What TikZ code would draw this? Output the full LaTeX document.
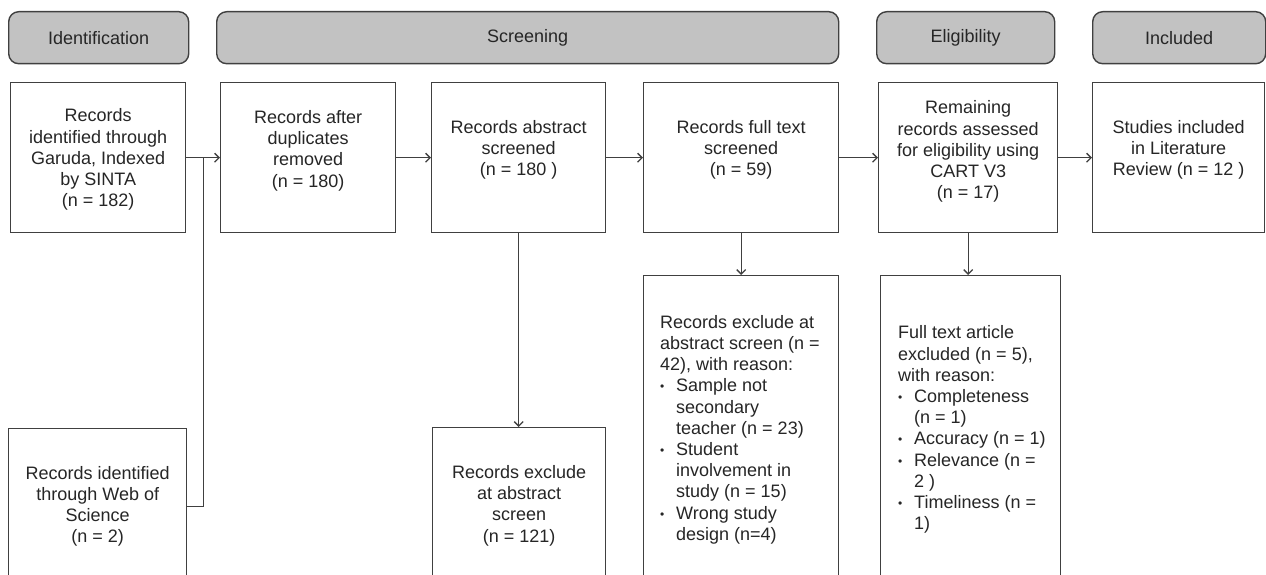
\documentclass[tikz,border=0pt]{standalone}
\usepackage{fontspec}
\setmainfont{Liberation Sans}
\usetikzlibrary{arrows.meta,calc}
\definecolor{hdr}{HTML}{C2C2C2}
\definecolor{ln}{HTML}{404040}
\definecolor{tx}{HTML}{262626}
\newcommand{\bul}{\makebox[16pt][l]{{\fontsize{12}{12}\selectfont\raisebox{1pt}{•}}}}
\newcommand{\ind}{\hspace*{16pt}}
\tikzset{
  hdrbox/.style={draw=ln, fill=hdr, line width=1.4pt, rounded corners=10pt, inner sep=0pt, minimum height=52pt, anchor=north west},
  recbox/.style={draw=ln, line width=1.4pt, fill=white, inner sep=0pt, anchor=north west},
  txt/.style={font=\fontsize{18}{21.2}\selectfont, align=center, text=tx, inner sep=0pt},
  ltxt/.style={font=\fontsize{18}{21.2}\selectfont, align=left, text=tx, inner sep=0pt, anchor=west},
  arr/.style={draw=ln, line width=1.3pt, -{Straight Barb[length=4.5pt,width=9pt]}},
  conn/.style={draw=ln, line width=1.3pt},
}
\begin{document}
\begin{tikzpicture}[x=1pt,y=-1pt]
\useasboundingbox (0,0) rectangle (1266,575);
\clip (0,0) rectangle (1266,575);
% headers
\node[hdrbox, minimum width=180pt] (h1) at (8,11) {};
\node[txt] at (h1.center) {Identification};
\node[hdrbox, minimum width=622pt] (h2) at (216,11) {};
\node[txt] at (h2.center) {Screening};
\node[hdrbox, minimum width=178pt] (h3) at (876,11) {};
\node[txt] at (h3.center) {Eligibility};
\node[hdrbox, minimum width=173pt] (h4) at (1092,11) {};
\node[txt] at (h4.center) {Included};
% top row boxes
\node[recbox, minimum width=175pt, minimum height=150pt] (b1) at (10,82) {};
\node[txt] at ([yshift=-2pt]b1.center) {Records\\identified through\\Garuda, Indexed\\by SINTA\\(n = 182)};
\node[recbox, minimum width=175pt, minimum height=150pt] (b2) at (220,82) {};
\node[txt] at ([yshift=7pt]b2.center) {Records after\\duplicates\\removed\\(n = 180)};
\node[recbox, minimum width=174pt, minimum height=150pt] (b3) at (431,82) {};
\node[txt] at ([yshift=8pt]b3.center) {Records abstract\\screened\\(n = 180 )};
\node[recbox, minimum width=195pt, minimum height=150pt] (b4) at (643,82) {};
\node[txt] at ([yshift=8pt]b4.center) {Records full text\\screened\\(n = 59)};
\node[recbox, minimum width=179pt, minimum height=150pt] (b5) at (878,82) {};
\node[txt] at ([yshift=6pt]b5.center) {Remaining\\records assessed\\for eligibility using\\CART V3\\(n = 17)};
\node[recbox, minimum width=172pt, minimum height=150pt] (b6) at (1092,82) {};
\node[txt] at ([yshift=8pt]b6.center) {Studies included\\in Literature\\Review (n = 12 )};
% lower boxes
\node[recbox, minimum width=178pt, minimum height=155pt] (b7) at (8,428) {};
\node[txt] at (b7.center) {Records identified\\through Web of\\Science\\(n = 2)};
\node[recbox, minimum width=173pt, minimum height=156pt] (b8) at (432,427) {};
\node[txt] at (b8.center) {Records exclude\\at abstract\\screen\\(n = 121)};
\node[recbox, minimum width=195pt, minimum height=308pt] (b9) at (643,275) {};
\node[ltxt] at ([xshift=17pt]b9.west) {Records exclude at\\abstract screen (n =\\42), with reason:\\
\bul Sample not\\\ind secondary\\\ind teacher (n = 23)\\
\bul Student\\\ind involvement in\\\ind study (n = 15)\\
\bul Wrong study\\\ind design (n=4)};
\node[recbox, minimum width=180pt, minimum height=308pt] (b10) at (880,275) {};
\node[ltxt] at ([xshift=18pt]b10.west) {Full text article\\excluded (n = 5),\\with reason:\\
\bul Completeness\\\ind (n = 1)\\
\bul Accuracy (n = 1)\\
\bul Relevance (n =\\\ind 2 )\\
\bul Timeliness (n =\\\ind 1)};
% connectors
\coordinate (jc) at ($(b1.east)!0.5!(b2.west)$);
\draw[arr] (b1.east) -- (b2.west);
\draw[conn] (b7.east) -| (jc);
\draw[arr] (b2.east) -- (b3.west);
\draw[arr] (b3.east) -- (b4.west);
\draw[arr] (b4.east) -- (b5.west);
\draw[arr] (b5.east) -- (b6.west);
\draw[arr] (b3.south) -- (b3.south |- b8.north);
\draw[arr] (b4.south) -- (b4.south |- b9.north);
\draw[arr] (b5.south) -- (b5.south |- b10.north);
\end{tikzpicture}
\end{document}
